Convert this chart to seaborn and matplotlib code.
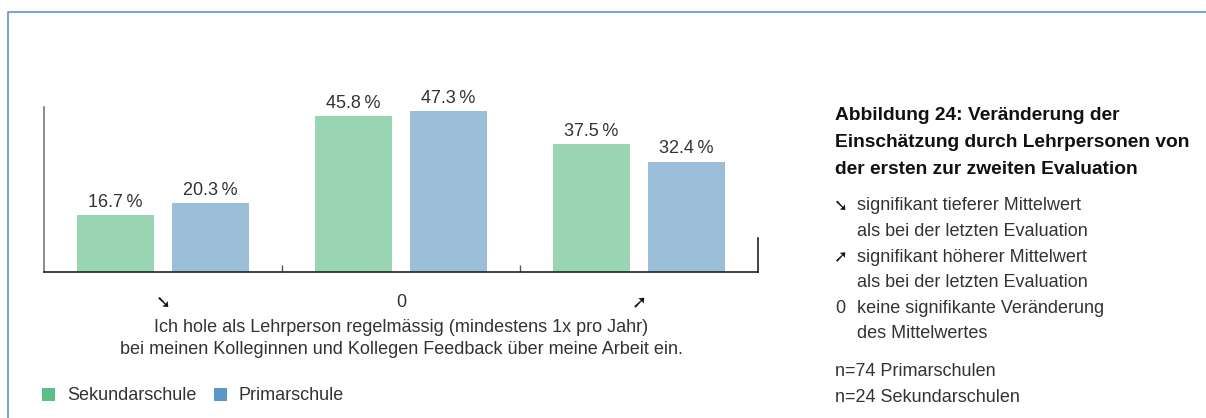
import matplotlib
matplotlib.use("Agg")
import matplotlib.pyplot as plt
from matplotlib.lines import Line2D
from matplotlib.patches import Patch
import seaborn as sns
import pandas as pd

categories = ["\u2798", "0", "\u279A"]
sekundar = [16.7, 45.8, 37.5]
primar = [20.3, 47.3, 32.4]
series_names = ["Sekundarschule", "Primarschule"]
xlabel_lines = ["Ich hole als Lehrperson regelmässig (mindestens 1x pro Jahr)",
                "bei meinen Kolleginnen und Kollegen Feedback über meine Arbeit ein."]
title_lines = ["Abbildung 24: Veränderung der",
               "Einschätzung durch Lehrpersonen von",
               "der ersten zur zweiten Evaluation"]
key_lines = [("\u2798", "signifikant tieferer Mittelwert"),
             ("", "als bei der letzten Evaluation"),
             ("\u279A", "signifikant höherer Mittelwert"),
             ("", "als bei der letzten Evaluation"),
             ("0", "keine signifikante Veränderung"),
             ("", "des Mittelwertes")]
n_lines = ["n=74 Primarschulen", "n=24 Sekundarschulen"]

sns.set_theme(style="white")
plt.rcParams['font.family'] = ['Liberation Sans', 'DejaVu Sans']

W, H = 1206, 418
fig = plt.figure(figsize=(W / 100, H / 100), dpi=100)

def fx(px):
    return px / W

def fy(py):
    return 1 - py / H

FS = 13
TXT = "#333333"

ax = fig.add_axes([fx(44), fy(272), fx(758) - fx(44), fy(107) - fy(272)])

df = pd.DataFrame({
    "cat": categories * 2,
    "val": sekundar + primar,
    "series": [series_names[0]] * 3 + [series_names[1]] * 3,
})
bar_colors = ["#9ad5b3", "#9bbfd9"]
legend_colors = ["#5dbf88", "#5b98c8"]
sns.barplot(data=df, x="cat", y="val", hue="series", order=categories,
            hue_order=series_names, palette=bar_colors, width=0.8, gap=0.19,
            saturation=1, legend=False, ax=ax, edgecolor="none")

ax.set_xlim(-0.5, 2.5)
ax.set_ylim(0, 48.4)
ax.set_yticks([])
ax.set_xlabel("")
ax.set_ylabel("")
ax.spines["top"].set_visible(False)
ax.spines["left"].set_color("#777777")
ax.spines["left"].set_linewidth(1.2)
ax.spines["bottom"].set_color("#222222")
ax.spines["bottom"].set_linewidth(1.2)
ax.spines["right"].set_color("#222222")
ax.spines["right"].set_linewidth(1.2)
ax.spines["right"].set_bounds(0, 10)

# group separator ticks
ax.set_xticks([0.5, 1.5], minor=True)
ax.tick_params(axis="x", which="minor", direction="in", length=5, width=1,
               color="#555555", bottom=True)
ax.set_xticks(range(3))
ax.set_xticklabels(categories)
ax.tick_params(axis="x", which="major", length=0, pad=16, labelsize=FS,
               labelcolor=TXT)
for lbl, t in zip(ax.get_xticklabels(), categories):
    if t != "0":
        lbl.set_family(["DejaVu Sans"])
        lbl.set_fontsize(13)
        lbl.set_fontweight("bold")
        lbl.set_color("#111111")

for cont in ax.containers:
    ax.bar_label(cont, labels=[f"{v.get_height():.1f}\u2009%" for v in cont],
                 padding=3, fontsize=FS, color=TXT)

fig.text(fx(401), fy(328), xlabel_lines[0], ha="center", va="center",
         fontsize=FS, color=TXT)
fig.text(fx(401), fy(349), xlabel_lines[1], ha="center", va="center",
         fontsize=FS, color=TXT)

handles = [Patch(facecolor=c, edgecolor="none") for c in legend_colors]
fig.legend(handles, series_names, loc="center left",
           bbox_to_anchor=(fx(42), fy(396)), ncol=2, frameon=False,
           fontsize=FS, handlelength=0.72, handleheight=0.72,
           handletextpad=0.65, columnspacing=1.0, borderaxespad=0,
           borderpad=0, labelcolor=TXT)

# right-hand text block
for i, t in enumerate(title_lines):
    fig.text(fx(835), fy(115 + 27.5 * i), t, ha="left", va="center",
             fontsize=13.8, fontweight="bold", color="#111111")
for i, (sym, t) in enumerate(key_lines):
    y = fy(206 + 25.6 * i)
    if sym:
        if sym == "0":
            fig.text(fx(835), y, sym, ha="left", va="center", fontsize=FS,
                     color=TXT)
        else:
            fig.text(fx(834), y, sym, ha="left", va="center", fontsize=12,
                     fontweight="bold", color="#111111",
                     family=["DejaVu Sans"])
    fig.text(fx(857), y, t, ha="left", va="center", fontsize=FS, color=TXT)
for i, t in enumerate(n_lines):
    fig.text(fx(835), fy(372 + 25 * i), t, ha="left", va="center",
             fontsize=FS, color=TXT)

# frame
fig.add_artist(Line2D([fx(7.5), fx(7.5), 1.0], [0.0, fy(11.5), fy(11.5)],
                      transform=fig.transFigure, color="#6f9bcf", lw=1.3))

fig.savefig("out.png", dpi=100)
